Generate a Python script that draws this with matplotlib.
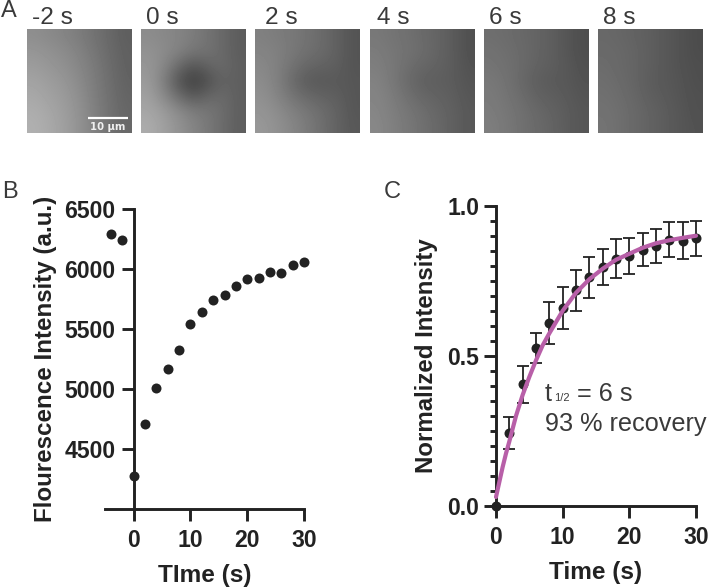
import numpy as np
import matplotlib
matplotlib.use("Agg")
import matplotlib.pyplot as plt

# ---------- data ----------
frame_labels = ["-2 s", "0 s", "2 s", "4 s", "6 s", "8 s"]
frame_m2 = [[142,137,132,124,114,104,94],[150,145,139,130,118,106,96],[156,150,144,134,122,108,97],
            [163,156,150,138,124,110,98],[168,161,154,142,126,112,100],[173,166,157,145,128,113,102],
            [176,169,159,146,129,113,104]]
frame_0 = [[140,136,132,124,114,104,92],[146,140,130,118,114,104,92],[150,136,106,84,100,106,94],
           [155,128,84,62,80,100,94],[160,138,108,86,102,106,94],[166,155,138,124,118,108,94],
           [172,160,146,132,120,106,94]]
frame_2 = [[128,124,120,114,106,96,84],[132,128,120,112,106,96,84],[136,128,114,102,98,94,84],
           [140,128,106,90,88,90,86],[144,132,116,104,98,94,86],[148,140,128,118,108,98,86],
           [152,144,134,122,110,98,88]]
frame_4 = [[120,116,112,106,100,92,80],[124,118,114,108,100,92,80],[126,120,110,102,98,92,82],
           [130,120,106,96,94,92,84],[132,124,112,102,98,94,86],[134,126,118,110,102,96,88],
           [136,128,120,112,104,96,88]]
frame_6 = [[110,108,104,100,94,86,78],[114,110,106,100,94,86,78],[116,112,106,98,94,88,80],
           [120,114,104,94,90,88,82],[122,116,108,98,94,90,84],[124,118,112,104,98,92,86],
           [126,120,112,106,100,92,86]]
frame_8 = [[104,102,98,94,88,82,76],[106,104,100,94,88,82,76],[108,104,100,94,88,82,78],
           [110,106,100,92,88,84,78],[112,108,102,94,90,84,80],[114,110,104,98,92,86,80],
           [116,110,104,98,92,86,82]]
frames = [frame_m2, frame_0, frame_2, frame_4, frame_6, frame_8]

time_b = [-4,-2,0,2,4,6,8,10,12,14,16,18,20,22,24,26,28,30]
intensity_b = [6294,6241,4272,4709,5010,5169,5325,5539,5645,5745,5787,5859,5921,5929,5976,5965,6032,6063]

time_c = [0,2,4,6,8,10,12,14,16,18,20,22,24,26,28,30]
norm_c = [0,.243,.405,.526,.608,.658,.719,.762,.797,.823,.831,.853,.865,.887,.883,.892]
err_c = [0,.054,.062,.051,.07,.07,.068,.068,.06,.065,.06,.055,.057,.058,.062,.058]
fit_t = [0,.5,1,1.5,2,3,4,5,6,7,8,10,12,14,16,18,20,22,24,26,28,30]
fit_y = [.03,.08,.13,.175,.215,.30,.37,.43,.485,.535,.575,.65,.71,.755,.79,.82,.84,.86,.875,.885,.893,.90]

# ---------- layout helpers ----------
W, H = 708, 588
plt.rcParams["font.family"] = ["Liberation Sans", "DejaVu Sans"]
fig = plt.figure(figsize=(W/100, H/100), dpi=100, facecolor="white")

def rect(l, t, r, b):
    return [l/W, 1-b/H, (r-l)/W, (b-t)/H]

def ftext(x, y, s, **kw):
    kw.setdefault("va", "baseline")
    return fig.text(x/W, 1-y/H, s, **kw)

INK = "#222222"
TXT = "#3a3a3a"

# ---------- panel A ----------
lefts = [27, 141, 255.3, 369.7, 484, 598]
tx = [31.7, 145.7, 265, 376.7, 489.3, 602.7]
for l, x, grid, lab in zip(lefts, tx, frames, frame_labels):
    a = fig.add_axes(rect(l, 28.7, l+104.3, 132.7))
    a.imshow(np.array(grid, float), cmap="gray", vmin=0, vmax=255,
             interpolation="bicubic", aspect="auto")
    a.axis("off")
    ftext(x, 24.3, lab, fontsize=17.6, color=TXT)

fig.add_artist(plt.Line2D([87.7/W, 128.3/W], [1-118/H, 1-118/H], color="white", lw=1.6,
                          solid_capstyle="butt"))
ftext(108, 129.5, "10 µm", fontsize=7.2, color="#f0f0f0", ha="center",
      family="DejaVu Sans", fontweight="bold")

ftext(1, 17.3, "A", fontsize=17, color=TXT)
ftext(2, 198.3, "B", fontsize=17, color=TXT)
ftext(384, 198.3, "C", fontsize=17, color=TXT)

LW = 2.1

def style(ax):
    ax.patch.set_alpha(0)
    ax.spines["top"].set_visible(False)
    ax.spines["right"].set_visible(False)
    for s in ("left", "bottom"):
        ax.spines[s].set_linewidth(LW)
        ax.spines[s].set_color(INK)
    for lab in ax.get_xticklabels() + ax.get_yticklabels():
        lab.set_fontweight("bold")
        lab.set_fontsize(16.6)
        lab.set_color(INK)

# ---------- panel B ----------
axb = fig.add_axes(rect(105.3, 209.3, 304, 508.7))
axb.set_xlim(-5, 30)
axb.set_ylim(4000, 6500)
axb.spines["left"].set_position(("data", 0))
axb.set_xticks([0, 10, 20, 30])
axb.set_yticks([4500, 5000, 5500, 6000, 6500])
axb.tick_params(axis="both", length=8.6, width=LW, color=INK)
axb.tick_params(axis="y", pad=4.5)
axb.tick_params(axis="x", pad=6)
style(axb)
axb.plot(time_b, intensity_b, "o", color=INK, ms=7.2, mew=0, clip_on=False, zorder=5)
axb.set_xlabel("TIme (s)", fontsize=17.6, fontweight="bold", color=INK, va="baseline")
axb.xaxis.set_label_coords(204.7/W, 1-581.7/H, transform=fig.transFigure)
axb.set_ylabel("Flourescence Intensity (a.u.)", fontsize=17.4, fontweight="bold", color=INK, va="baseline")
axb.yaxis.set_label_coords(51.7/W, 1-359/H, transform=fig.transFigure)

# ---------- panel C ----------
axc = fig.add_axes(rect(496, 205.7, 696, 506))
axc.set_xlim(0, 30)
axc.set_ylim(0, 1)
axc.set_xticks([0, 10, 20, 30])
axc.set_yticks([0, .5, 1])
axc.set_yticklabels(["0.0", "0.5", "1.0"])
axc.set_yticks(np.arange(0, 1.001, .05), minor=True)
axc.tick_params(axis="both", which="major", length=8.6, width=LW, color=INK)
axc.tick_params(axis="y", which="minor", length=4.6, width=LW, color=INK)
axc.tick_params(axis="y", pad=3.6)
axc.tick_params(axis="x", pad=6)
style(axc)
axc.errorbar(time_c, norm_c, yerr=err_c, fmt="none", ecolor=INK,
             elinewidth=1.3, capsize=4, capthick=1.3, clip_on=False, zorder=4)
axc.plot(time_c, norm_c, "o", color=INK, ms=7.2, mew=0, clip_on=False, zorder=5)
axc.plot(fit_t, fit_y, color="#B85FA8", lw=3, solid_capstyle="round", zorder=6, clip_on=False)
axc.plot([0], [0], "D", color=INK, ms=5.5, mew=0, clip_on=False, zorder=7)
axc.set_xlabel("Time (s)", fontsize=17.6, fontweight="bold", color=INK, va="baseline")
axc.xaxis.set_label_coords(595.8/W, 1-579/H, transform=fig.transFigure)
axc.set_ylabel("Normalized Intensity", fontsize=17.3, fontweight="bold", color=INK, va="baseline")
axc.yaxis.set_label_coords(433/W, 1-355.5/H, transform=fig.transFigure)

ftext(545, 400.7, "t", fontsize=18.2, color=TXT)
ftext(554, 400.7, "1/2", fontsize=8, color=TXT)
ftext(577, 400.7, "= 6 s", fontsize=18.2, color=TXT)
ftext(545, 430.7, "93 % recovery", fontsize=18.2, color=TXT)

fig.savefig("out.png", dpi=100)
